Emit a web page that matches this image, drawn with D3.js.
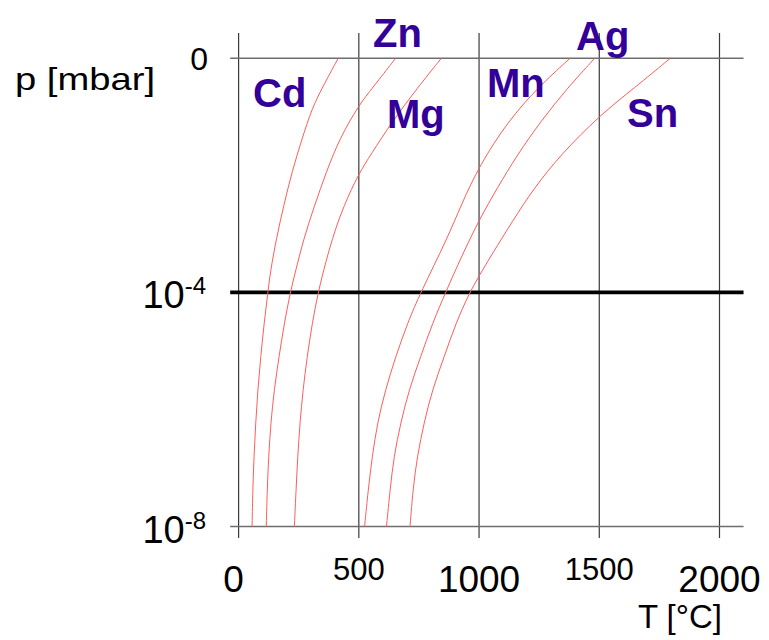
<!DOCTYPE html>
<html>
<head>
<meta charset="utf-8">
<script src="https://cdn.jsdelivr.net/npm/d3@7"></script>
<style>
  body { margin: 0; background: #fff; }
  svg text { font-family: "Liberation Sans", Arial, sans-serif; }
</style>
</head>
<body>
<svg id="chart" width="769" height="640"></svg>
<script>
let d3 = window.d3

// temperature ticks (°C) and pressure ticks (exponents of 10, mbar)
let tTicks = [0, 500, 1000, 1500, 2000]
let bigTicks = [0, 1000, 2000]
let pTicks = [0, -4, -8]

// vapour pressure curves: [log10 p, T]
let cd = [[0, 414], [-0.51, 347], [-0.85, 306], [-1.37, 264], [-1.94, 222], [-2.51, 188], [-3.08, 157], [-3.65, 132],
  [-4, 122], [-4.53, 106], [-5.1, 92], [-5.66, 80], [-6.23, 71], [-6.8, 64], [-7.37, 59], [-8, 56]]
let zn = [[0, 653], [-0.51, 556], [-0.8, 500], [-1.37, 420], [-1.94, 365], [-2.51, 316], [-3.08, 271], [-3.65, 236],
  [-4, 215], [-4.53, 190], [-5.1, 168], [-5.66, 148], [-6.23, 134], [-6.8, 125], [-7.37, 119], [-8, 115]]
let mg = [[0, 843], [-0.51, 743], [-1.08, 639], [-1.65, 549], [-1.97, 500], [-2.51, 438], [-3.08, 389], [-3.65, 352],
  [-4, 331], [-4.53, 306], [-5.1, 285], [-5.66, 268], [-6.23, 255], [-6.8, 246], [-7.37, 239], [-8, 232]]
let mn = [[0, 1378], [-0.51, 1242], [-1.08, 1120], [-1.82, 1003], [-2.51, 925], [-3.08, 868],
  [-4, 757], [-4.53, 702], [-5.1, 653], [-5.66, 611], [-6.23, 577], [-6.8, 556], [-7.37, 539], [-8, 524]]
let ag = [[0, 1481], [-0.51, 1367], [-1.08, 1256], [-1.65, 1159], [-2.22, 1075], [-2.74, 1003], [-3.36, 930],
  [-4, 861], [-4.53, 806], [-5.1, 757], [-5.66, 709], [-6.23, 674], [-6.8, 646], [-7.37, 630], [-8, 615]]
let sn = [[0, 1795], [-0.51, 1645], [-0.97, 1503], [-1.65, 1339], [-2.22, 1228], [-2.79, 1138], [-3.36, 1052], [-3.7, 1003],
  [-4, 961], [-4.53, 903], [-5.1, 855], [-5.66, 806], [-6.23, 771], [-6.8, 743], [-7.37, 725], [-8, 713]]

let series = [
  { name: 'Cd', values: cd, lx: 253, ly: 107 },
  { name: 'Zn', values: zn, lx: 373, ly: 47 },
  { name: 'Mg', values: mg, lx: 387, ly: 128 },
  { name: 'Mn', values: mn, lx: 487, ly: 97 },
  { name: 'Ag', values: ag, lx: 576, ly: 50 },
  { name: 'Sn', values: sn, lx: 627, ly: 127 }
]

let x = d3.scaleLinear().domain([0, 2000]).range([238.6, 719.5])
let y = d3.scaleLog().domain([1e-8, 1]).range([526.5, 58.3])
let xMin = -35
let xMax = 2100

let svg = d3.select('#chart')

// vertical grid lines, running a little past the frame
svg.append('g')
  .selectAll('line')
  .data(tTicks)
  .join('line')
  .attr('x1', d => x(d)).attr('x2', d => x(d))
  .attr('y1', 33).attr('y2', 538)
  .attr('stroke', '#3a3a3a')
  .attr('stroke-width', 1.2)

// horizontal lines at the pressure ticks
svg.append('g')
  .selectAll('line')
  .data(pTicks)
  .join('line')
  .attr('x1', x(xMin)).attr('x2', x(xMax))
  .attr('y1', d => y(Math.pow(10, d))).attr('y2', d => y(Math.pow(10, d)))
  .attr('stroke', d => d === -4 ? '#000' : '#6e6e6e')
  .attr('stroke-width', d => d === -4 ? 3.6 : 1.5)

// curves
let line = d3.line()
  .x(d => x(d[1]))
  .y(d => y(Math.pow(10, d[0])))
  .curve(d3.curveBasis)

svg.append('g')
  .selectAll('path')
  .data(series)
  .join('path')
  .attr('d', d => line(d.values))
  .attr('fill', 'none')
  .attr('stroke', '#ff5c5c')
  .attr('stroke-width', 1)

// element labels
svg.append('g')
  .selectAll('text')
  .data(series)
  .join('text')
  .attr('x', d => d.lx)
  .attr('y', d => d.ly)
  .attr('fill', '#330099')
  .attr('font-weight', 'bold')
  .attr('font-size', 40)
  .text(d => d.name)

// y tick labels
let yLab = svg.append('g')
pTicks.forEach(function (p) {
  let py = y(Math.pow(10, p))
  if (p === 0) {
    yLab.append('text')
      .attr('x', 208).attr('y', py + 12)
      .attr('text-anchor', 'end')
      .attr('font-size', 32)
      .text('0')
  } else {
    let t = yLab.append('text')
      .attr('x', 206).attr('y', py + 16)
      .attr('text-anchor', 'end')
      .attr('font-size', 38)
    t.append('tspan').text('10')
    t.append('tspan')
      .attr('font-size', 24)
      .attr('dy', -14)
      .text(String(p))
  }
})

// x tick labels
svg.append('g')
  .selectAll('text')
  .data(tTicks)
  .join('text')
  .attr('x', d => x(d) + (d === 0 ? -5 : 0))
  .attr('y', d => bigTicks.includes(d) ? 592 : 580)
  .attr('text-anchor', 'middle')
  .attr('font-size', d => bigTicks.includes(d) ? 37 : 31)
  .text(d => d)

// axis titles
svg.append('text')
  .attr('x', 15).attr('y', 90)
  .attr('font-size', 32)
  .attr('textLength', 140)
  .attr('lengthAdjust', 'spacingAndGlyphs')
  .text('p [mbar]')

svg.append('text')
  .attr('x', 722).attr('y', 628)
  .attr('text-anchor', 'end')
  .attr('font-size', 33)
  .text('T [°C]')
</script>
</body>
</html>
